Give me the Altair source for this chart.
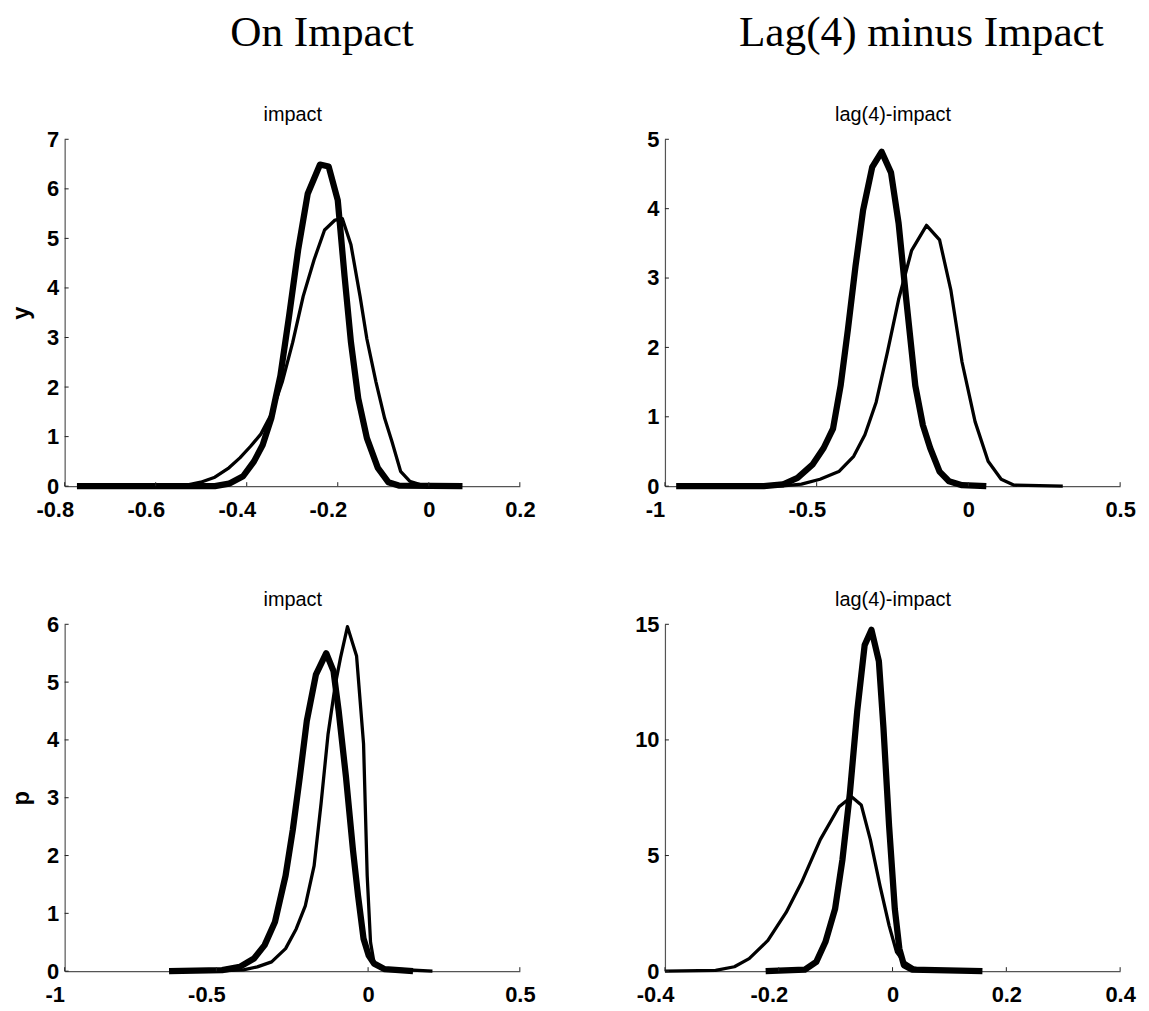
import altair as alt
import pandas as pd

# ---------------- data ----------------
# top-left: "impact" (y)
tl_thick_x = [-0.773, -0.470, -0.439, -0.408, -0.384, -0.365, -0.346, -0.326, -0.307, -0.287, -0.266,
              -0.239, -0.220, -0.200, -0.185, -0.171, -0.155, -0.136, -0.112, -0.089, -0.066, 0.074]
tl_thick_y = [0, 0, 0.05, 0.2, 0.5, 0.83, 1.37, 2.23, 3.43, 4.77, 5.9,
              6.49, 6.45, 5.77, 4.23, 2.9, 1.77, 0.97, 0.37, 0.08, 0.013, 0]
tl_thin_x = [-0.594, -0.532, -0.501, -0.470, -0.439, -0.415, -0.392, -0.369, -0.346, -0.322, -0.299,
             -0.276, -0.252, -0.229, -0.206, -0.190, -0.171, -0.151, -0.136, -0.116, -0.097, -0.081,
             -0.062, -0.042, -0.019, 0.012]
tl_thin_y = [0, 0.02, 0.08, 0.18, 0.37, 0.57, 0.8, 1.05, 1.45, 2.1, 2.9,
             3.83, 4.57, 5.17, 5.37, 5.4, 4.87, 3.83, 2.97, 2.1, 1.37, 0.9,
             0.3, 0.1, 0.03, 0]

# top-right: "lag(4)-impact" (y)
tr_thick_x = [-0.963, -0.674, -0.612, -0.563, -0.514, -0.477, -0.446, -0.421, -0.397, -0.372, -0.347,
              -0.317, -0.286, -0.255, -0.230, -0.206, -0.175, -0.150, -0.126, -0.095, -0.064, -0.021, 0.059]
tr_thick_y = [0, 0, 0.024, 0.12, 0.31, 0.55, 0.83, 1.45, 2.26, 3.17, 3.98,
              4.6, 4.82, 4.52, 3.79, 2.74, 1.45, 0.88, 0.55, 0.21, 0.07, 0.014, 0]
tr_thin_x = [-0.766, -0.612, -0.550, -0.489, -0.427, -0.378, -0.341, -0.304, -0.267, -0.230,
             -0.187, -0.138, -0.095, -0.058, -0.021, 0.022, 0.065, 0.108, 0.151, 0.311]
tr_thin_y = [0, 0.005, 0.03, 0.1, 0.21, 0.43, 0.74, 1.21, 1.93, 2.69,
             3.4, 3.76, 3.55, 2.83, 1.79, 0.93, 0.36, 0.1, 0.014, 0]

# bottom-left: "impact" (p)
bl_thick_x = [-0.656, -0.481, -0.423, -0.376, -0.341, -0.307, -0.272, -0.248, -0.225, -0.202, -0.172,
              -0.138, -0.114, -0.097, -0.073, -0.050, -0.033, -0.015, 0.002, 0.020, 0.055, 0.148]
bl_thick_y = [0, 0.017, 0.074, 0.22, 0.45, 0.85, 1.65, 2.45, 3.36, 4.33, 5.13,
              5.5, 5.19, 4.5, 3.36, 2.1, 1.3, 0.56, 0.27, 0.13, 0.034, 0]
bl_thin_x = [-0.505, -0.411, -0.365, -0.318, -0.272, -0.237, -0.207, -0.178, -0.155, -0.132,
             -0.108, -0.091, -0.068, -0.038, -0.015, -0.003, 0.008, 0.020, 0.043, 0.212]
bl_thin_y = [0, 0.023, 0.074, 0.16, 0.39, 0.73, 1.13, 1.82, 2.9, 4.1,
             4.96, 5.42, 5.96, 5.45, 3.93, 1.65, 0.5, 0.13, 0.046, 0]

# bottom-right: "lag(4)-impact" (p)
br_thick_x = [-0.223, -0.154, -0.134, -0.118, -0.101, -0.088, -0.075, -0.062, -0.049,
              -0.037, -0.024, -0.016, -0.006, 0.004, 0.012, 0.020, 0.034, 0.158]
br_thick_y = [0, 0.07, 0.4, 1.26, 2.69, 4.83, 7.69, 11.26, 14.1,
              14.76, 13.4, 10.54, 6.26, 2.69, 0.97, 0.26, 0.07, 0]
br_thin_x = [-0.4, -0.311, -0.278, -0.252, -0.219, -0.187, -0.160, -0.127, -0.094, -0.072,
             -0.055, -0.039, -0.022, -0.006, 0.007, 0.020, 0.037, 0.056, 0.096]
br_thin_y = [0, 0.03, 0.19, 0.54, 1.33, 2.54, 3.83, 5.69, 7.11, 7.54,
             7.19, 5.69, 3.69, 1.97, 0.83, 0.4, 0.14, 0.03, 0]

# axis ticks
tl_xticks = [-0.8, -0.6, -0.4, -0.2, 0, 0.2]
tl_yticks = [0, 1, 2, 3, 4, 5, 6, 7]
tr_xticks = [-1, -0.5, 0, 0.5]
tr_yticks = [0, 1, 2, 3, 4, 5]
bl_xticks = [-1, -0.5, 0, 0.5]
bl_yticks = [0, 1, 2, 3, 4, 5, 6]
br_xticks = [-0.4, -0.2, 0, 0.2, 0.4]
br_yticks = [0, 5, 10, 15]

col_titles = ["On Impact", "Lag(4) minus Impact"]
sub_titles = ["impact", "lag(4)-impact"]
row_titles = ["y", "p"]

# ---------------- styling ----------------
SANS = "Liberation Sans"
SERIF = "Liberation Serif"
W, H = 458, 349
TICK = 4


def panel(tk_x, tk_y, tn_x, tn_y, xt, yt, sub, ytitle=None, coltitle=None, coldx=0):
    lines = pd.DataFrame({
        "x": list(tn_x) + list(tk_x),
        "y": list(tn_y) + list(tk_y),
        "s": ["thin"] * len(tn_x) + ["thick"] * len(tk_x),
    })
    xs = alt.Scale(domain=[xt[0], xt[-1]], nice=False, zero=False)
    ys = alt.Scale(domain=[yt[0], yt[-1]], nice=False, zero=False)
    xaxis = alt.Axis(
        orient="bottom", values=xt, tickSize=0, grid=False, title=None,
        domainColor="#555555", domainWidth=1.2,
        labelFont=SANS, labelFontSize=22, labelFontWeight="bold", labelColor="black",
        labelPadding=14, labelFlush=False, labelOverlap=False,
        labelExpr="datum.value < 0 ? '-' + format(-datum.value, '~g') : format(datum.value, '~g')",
        labelOffset={"condition": {"test": "datum.value < 0", "value": -10}, "value": 0},
    )
    topaxis = alt.Axis(
        orient="top", values=xt, domain=False, ticks=False, labels=False, grid=False,
        title=sub, titleFont=SANS, titleFontSize=20, titleFontWeight="normal",
        titleColor="black", titlePadding=15,
    )
    yargs = dict(
        values=yt, tickSize=0, grid=False,
        domainColor="#555555", domainWidth=1.2,
        labelFont=SANS, labelFontSize=22, labelFontWeight="bold", labelColor="black",
        labelPadding=6, labelFlush=False, labelOverlap=False, format="d",
    )
    if ytitle:
        yaxis = alt.Axis(title=ytitle, titleFont=SANS, titleFontSize=24, titleFontWeight="bold",
                         titleColor="black", titlePadding=13, **yargs)
    else:
        yaxis = alt.Axis(title=None, **yargs)

    line_l = alt.Chart(lines).mark_line(color="black", strokeJoin="round").encode(
        x=alt.X("x:Q", scale=xs, axis=xaxis),
        y=alt.Y("y:Q", scale=ys, axis=yaxis),
        strokeWidth=alt.StrokeWidth("s:N", scale=alt.Scale(domain=["thin", "thick"], range=[3.3, 6.3]),
                                    legend=None),
        detail="s:N",
    )
    xtk = alt.Chart(pd.DataFrame({"t": xt})).mark_rule(color="#222222", strokeWidth=1).encode(
        x=alt.X("t:Q", scale=xs, axis=topaxis), y=alt.value(H), y2=alt.value(H - TICK))
    ytk = alt.Chart(pd.DataFrame({"t": yt})).mark_rule(color="#222222", strokeWidth=1).encode(
        y=alt.Y("t:Q", scale=ys, axis=yaxis), x=alt.value(0), x2=alt.value(TICK))
    layer = alt.layer(line_l, xtk, ytk).properties(width=W, height=H)
    if coltitle:
        layer = layer.properties(title=alt.TitleParams(
            coltitle, font=SERIF, fontSize=43.5, fontWeight="normal", color="black",
            frame="group", anchor="middle", dx=coldx, offset=49))
    return layer


tl = panel(tl_thick_x, tl_thick_y, tl_thin_x, tl_thin_y, tl_xticks, tl_yticks, sub_titles[0],
           row_titles[0], col_titles[0], 30)
tr = panel(tr_thick_x, tr_thick_y, tr_thin_x, tr_thin_y, tr_xticks, tr_yticks, sub_titles[1],
           None, col_titles[1], 29)
bl = panel(bl_thick_x, bl_thick_y, bl_thin_x, bl_thin_y, bl_xticks, bl_yticks, sub_titles[0], row_titles[1])
br = panel(br_thick_x, br_thick_y, br_thin_x, br_thin_y, br_xticks, br_yticks, sub_titles[1])

chart = alt.concat(tl, tr, bl, br, columns=2, bounds="flush",
                   spacing={"row": 139, "column": 146}).configure_view(
    stroke=None).properties(background="white",
                            padding={"left": 1, "top": 0, "right": 5, "bottom": 5})

chart.save("out.html", embed_options={"renderer": "svg", "actions": False})
